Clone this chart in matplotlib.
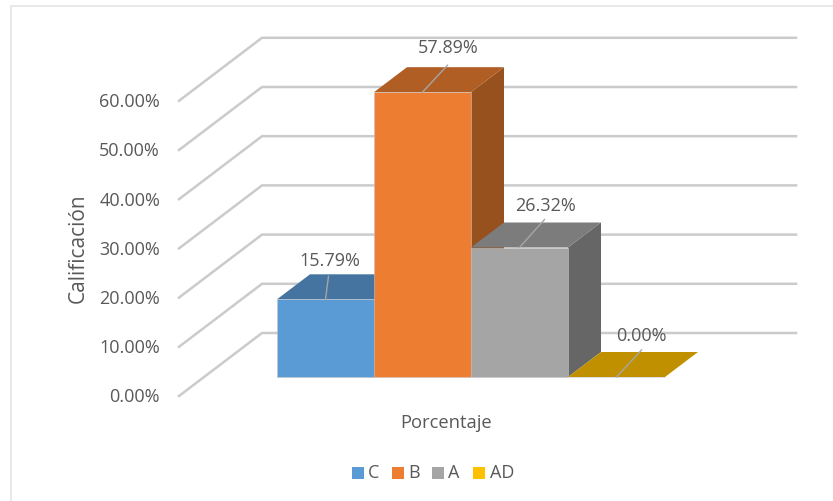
#!/usr/bin/env python3

import matplotlib
matplotlib.use("Agg")
import matplotlib.pyplot as plt
from matplotlib.patches import Polygon

categories = ["C", "B", "A", "AD"]
values = [15.79, 57.89, 26.32, 0.00]
value_labels = ["15.79%", "57.89%", "26.32%", "0.00%"]
y_ticks = [0, 10, 20, 30, 40, 50, 60]
y_tick_labels = ["0.00%", "10.00%", "20.00%", "30.00%", "40.00%", "50.00%", "60.00%"]

front_colors = ["#5B9BD5", "#ED7D31", "#A5A5A5", "#C09000"]
top_colors = ["#44749F", "#B15E25", "#7C7C7C", "#C09000"]
side_colors = ["#3A6590", "#96511F", "#666666", "#C09000"]
legend_colors = ["#5B9BD5", "#ED7D31", "#A5A5A5", "#FFC000"]

W, H = 833, 501

# pixel layout of the fake 3D box
x0_px = 277      # left edge of first bar
y0_px = 377      # bar baseline
slot_px = 97     # bar width
unit_px = 4.92   # pixels per percent
depth_dx = 33    # oblique offset of the bar depth
depth_dy = 25

plt.rcParams["font.family"] = ["Open Sans", "DejaVu Sans"]

fig = plt.figure(figsize=(W / 100, H / 100), dpi=100)
ax = fig.add_axes([0, 0, 1, 1])
# x data = bar slots, y data = percent
ax.set_xlim(-x0_px / slot_px, (W - x0_px) / slot_px)
ax.set_ylim((y0_px - H) / unit_px, y0_px / unit_px)
ax.axis("off")


def px(dx, dy=0):
    # pixel offset to data offset, dy positive going up
    return dx / slot_px, dy / unit_px


text_color = "#595959"
grid_color = "#CBCBCB"

# chart frame, only left and top show
ax.plot(*zip(*[(-x0_px / slot_px + 11 / slot_px, (y0_px - 500) / unit_px),
               (-x0_px / slot_px + 11 / slot_px, (y0_px - 6) / unit_px),
               ((W - x0_px) / slot_px, (y0_px - 6) / unit_px)]),
        color="#E4E4E4", lw=1.2, zorder=1)

# wall and floor gridlines
wx_front, wy_front = px(179 - x0_px, y0_px - 396)
wx_back, wy_back = px(262 - x0_px, y0_px - 333)
wx_end, _ = px(796 - x0_px)
for v, lab in zip(y_ticks, y_tick_labels):
    ax.plot([wx_front, wx_back, wx_end],
            [wy_front + v, wy_back + v, wy_back + v],
            color=grid_color, lw=1.8, solid_joinstyle="miter", zorder=2)
    ax.text(wx_front - 19 / slot_px, wy_front + v - 0.3, lab, ha="right", va="center",
            fontsize=13, color=text_color)

# bars, back to front is left to right here
ddx, ddy = px(depth_dx, depth_dy)
for i, (val, fc, tc, sc) in enumerate(zip(values, front_colors, top_colors, side_colors)):
    front = [(i, 0), (i + 1, 0), (i + 1, val), (i, val)]
    top = [(i, val), (i + 1, val), (i + 1 + ddx, val + ddy), (i + ddx, val + ddy)]
    side = [(i + 1, 0), (i + 1 + ddx, ddy), (i + 1 + ddx, val + ddy), (i + 1, val)]
    ax.add_patch(Polygon(side, closed=True, fc=sc, ec="none", zorder=3 + i * 0.1))
    ax.add_patch(Polygon(top, closed=True, fc=tc, ec="none", zorder=3 + i * 0.1))
    ax.add_patch(Polygon(front, closed=True, fc=fc, ec="#C4C4C4", lw=0.4, zorder=3 + i * 0.1))

# leader lines and value labels
leader_px = [(3, 23), (25, 27), (25, 28), (25, 27)]
label_px = [(4, 38), (26, 44), (26, 42), (25, 41)]
for i, (val, lab) in enumerate(zip(values, value_labels)):
    cx = i + 0.5
    lx, ly = px(*leader_px[i])
    tx, ty = px(*label_px[i])
    ax.plot([cx, cx + lx], [val, val + ly], color="#A6A6A6", lw=1, zorder=5)
    ax.text(cx + tx, val + ty, lab, ha="center", va="center", fontsize=13,
            color=text_color, zorder=6)

# axis titles
tx, ty = px(446 - x0_px, y0_px - 423)
ax.text(tx, ty, "Porcentaje", ha="center", va="center", fontsize=13.2, color=text_color)
tx, ty = px(78 - x0_px, y0_px - 248)
ax.text(tx, ty, "Calificación", ha="center", va="center", rotation=90, fontsize=15,
        color=text_color)

# legend drawn by hand so the squares land where the picture has them
legend_x = [357.5, 397.5, 438, 479]
for name, col, lx in zip(categories, legend_colors, legend_x):
    sx, sy = px(lx - x0_px, y0_px - 473)
    ax.scatter([sx], [sy], marker="s", s=75, color=col, linewidths=0, zorder=6)
    ax.text(sx + 10.5 / slot_px, sy, name, ha="left", va="center", fontsize=13,
            color=text_color)

fig.savefig("out.png", dpi=100)
plt.close(fig)
